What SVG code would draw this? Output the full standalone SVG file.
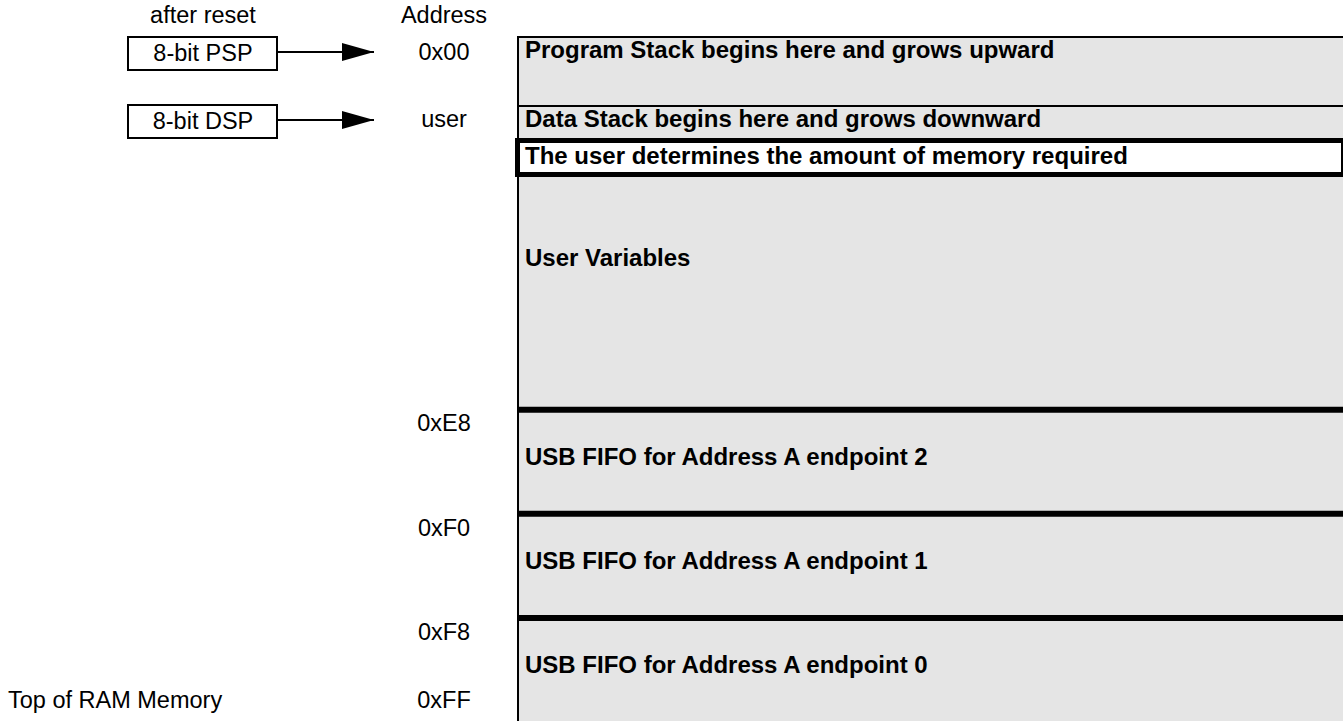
<svg xmlns="http://www.w3.org/2000/svg" width="1343" height="721" viewBox="0 0 1343 721">
<style>
.r{font-family:"Liberation Sans",Arial,sans-serif;font-size:23.5px;fill:#000}
.b{font-family:"Liberation Sans",Arial,sans-serif;font-size:24px;font-weight:bold;fill:#000}
.c{text-anchor:middle}
.box{fill:#fff;stroke:#000;stroke-width:2}
.thick{stroke:#000;stroke-width:6}
.thin{stroke:#000;stroke-width:2}
.conn{stroke:#000;stroke-width:2;fill:none}
</style>
<defs>
<marker id="ah" markerWidth="16" markerHeight="9" refX="16" refY="4.5" orient="auto" markerUnits="strokeWidth">
<path d="M0,0 L16,4.5 L0,9 Z" fill="#000"/>
</marker>
</defs>
<rect width="1343" height="721" fill="#fff"/>
<g id="headers">
<text class="r c" x="203" y="23">after reset</text>
<text class="r c" x="444" y="23">Address</text>
</g>
<g id="psp">
<rect class="box" x="128" y="37" width="149" height="33"/>
<text class="r c" x="203" y="61">8-bit PSP</text>
</g>
<g id="dsp">
<rect class="box" x="128" y="105" width="149" height="33"/>
<text class="r c" x="203" y="129">8-bit DSP</text>
</g>
<g id="addresses">
<text class="r c" x="444" y="60">0x00</text>
<text class="r c" x="444" y="127">user</text>
<text class="r c" x="444" y="431">0xE8</text>
<text class="r c" x="444" y="536">0xF0</text>
<text class="r c" x="444" y="640">0xF8</text>
<text class="r c" x="444" y="708">0xFF</text>
<text class="r" x="8" y="708">Top of RAM Memory</text>
</g>
<g id="memory">
<rect x="518" y="37" width="830" height="690" fill="#e5e5e5" stroke="#000" stroke-width="2"/>
<line class="thin" x1="518" y1="106" x2="1343" y2="106"/>
<g id="program-stack">
<text class="b" x="525" y="58">Program Stack begins here and grows upward</text>
</g>
<g id="data-stack">
<text class="b" x="525" y="127">Data Stack begins here and grows downward</text>
</g>
<g id="user-memory">
<rect x="517.5" y="140.5" width="826" height="34" fill="#fff" stroke="#000" stroke-width="5"/>
<text class="b" x="525" y="164">The user determines the amount of memory required</text>
</g>
<g id="user-variables">
<text class="b" x="525" y="266">User Variables</text>
</g>
<line class="thick" x1="518" y1="409.7" x2="1343" y2="409.7"/>
<g id="fifo2">
<text class="b" x="525" y="465">USB FIFO for Address A endpoint 2</text>
</g>
<line class="thick" x1="518" y1="513.7" x2="1343" y2="513.7"/>
<g id="fifo1">
<text class="b" x="525" y="569">USB FIFO for Address A endpoint 1</text>
</g>
<line class="thick" x1="518" y1="618" x2="1343" y2="618"/>
<g id="fifo0">
<text class="b" x="525" y="673">USB FIFO for Address A endpoint 0</text>
</g>
</g>
<g id="connectors">
<line class="conn" x1="277" y1="52" x2="374" y2="52" marker-end="url(#ah)"/>
<line class="conn" x1="277" y1="120" x2="374" y2="120" marker-end="url(#ah)"/>
</g>
</svg>
